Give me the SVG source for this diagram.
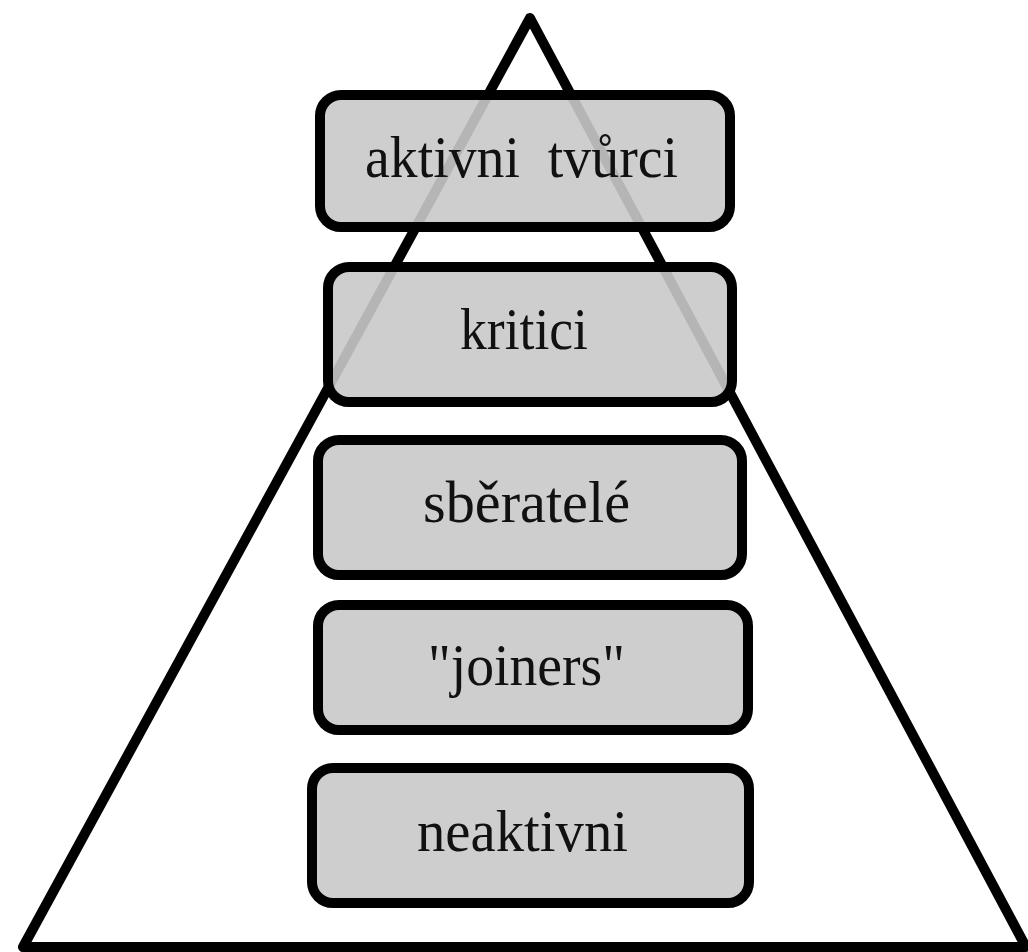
<svg xmlns="http://www.w3.org/2000/svg" width="1028" height="952" viewBox="0 0 1028 952">
<style>
.bg{fill:#ffffff}
.tri{fill:none;stroke:#000;stroke-width:10;stroke-linejoin:round}
.box{fill:rgb(201,201,201);fill-opacity:0.9;stroke:#000;stroke-width:10}
.lbl{font-family:"Liberation Serif","Times New Roman",serif;font-size:59px;fill:#111}
</style>
<rect class="bg" x="0" y="0" width="1028" height="952"/>
<g id="pyramid">
<polygon class="tri" points="530,18 23,947 1026,947"/>
</g>
<g id="connectors"></g>
<g id="node-aktivni-tvurci">
<rect class="box" x="320" y="95" width="410" height="132" rx="21" ry="21"/>
<text class="lbl" x="365" y="177" textLength="313" lengthAdjust="spacingAndGlyphs" xml:space="preserve">aktivni  tvůrci</text>
</g>
<g id="node-kritici">
<rect class="box" x="328" y="267" width="404" height="135" rx="21" ry="21"/>
<text class="lbl" x="460" y="349" textLength="128" lengthAdjust="spacingAndGlyphs">kritici</text>
</g>
<g id="node-sberatele">
<rect class="box" x="318" y="440" width="424" height="135" rx="21" ry="21"/>
<text class="lbl" x="423" y="522" textLength="207" lengthAdjust="spacingAndGlyphs">sběratelé</text>
</g>
<g id="node-joiners">
<rect class="box" x="318" y="605" width="430" height="125" rx="21" ry="21"/>
<text class="lbl" x="428" y="685" textLength="197" lengthAdjust="spacingAndGlyphs">"joiners"</text>
</g>
<g id="node-neaktivni">
<rect class="box" x="312" y="768" width="437" height="135" rx="21" ry="21"/>
<text class="lbl" x="417" y="851" textLength="211" lengthAdjust="spacingAndGlyphs">neaktivni</text>
</g>
</svg>
